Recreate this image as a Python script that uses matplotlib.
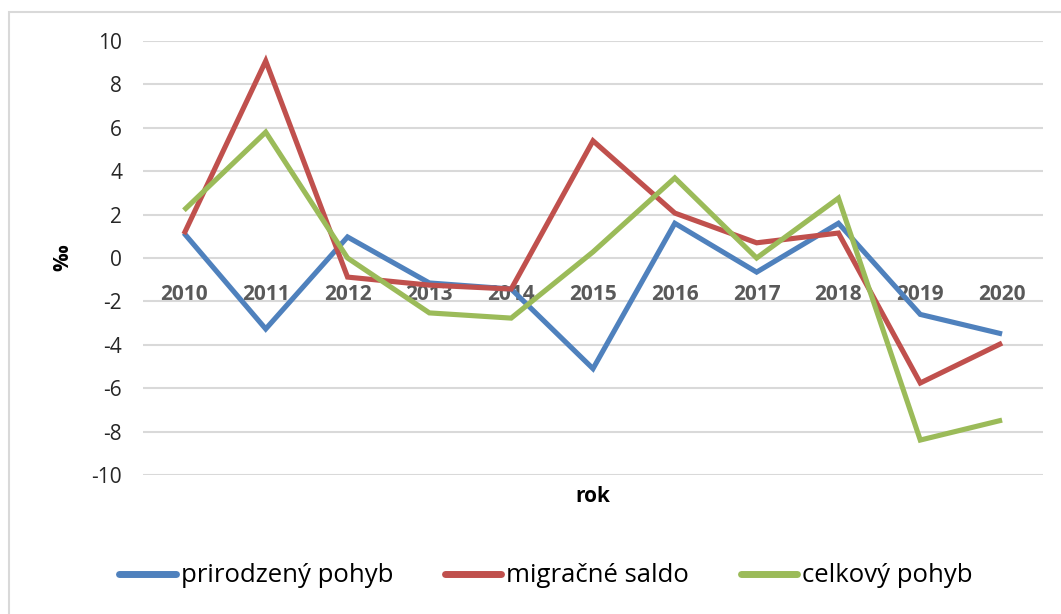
import matplotlib
matplotlib.use("Agg")
import matplotlib.pyplot as plt
from matplotlib.patches import Rectangle

years = ["2010", "2011", "2012", "2013", "2014", "2015", "2016", "2017", "2018", "2019", "2020"]
prirodzeny = [1.15, -3.27, 0.97, -1.15, -1.43, -5.1, 1.6, -0.65, 1.6, -2.6, -3.5]
migracne = [1.1, 9.08, -0.88, -1.25, -1.43, 5.4, 2.07, 0.7, 1.15, -5.76, -3.92]
celkovy = [2.2, 5.8, 0.0, -2.53, -2.77, 0.28, 3.69, 0.0, 2.76, -8.39, -7.47]
series_names = ["prirodzený pohyb", "migračné saldo", "celkový pohyb"]
colors = ["#4F81BD", "#C0504D", "#9BBB59"]
yticks = list(range(-10, 11, 2))

plt.rcParams["font.family"] = ["Open Sans", "DejaVu Sans"]

W, H = 1061, 614
fig = plt.figure(figsize=(W / 100, H / 100), dpi=100)
fig.patch.set_facecolor("white")

# chart border (clipped at right/bottom)
fig.add_artist(Rectangle((9 / W, -0.1), 1.2, 1.1 - 12 / H, transform=fig.transFigure,
                         fill=False, edgecolor="#D9D9D9", linewidth=1.5))

left, right = 143 / W, 1043 / W
top, bottom = 1 - 41 / H, 1 - 475 / H
ax = fig.add_axes([left, bottom, right - left, top - bottom])

x = list(range(len(years)))
for vals, name, c in zip([prirodzeny, migracne, celkovy], series_names, colors):
    ax.plot(x, vals, color=c, linewidth=3.7, label=name, solid_joinstyle="miter",
            solid_capstyle="butt", zorder=3)

ax.set_xlim(-0.5, len(years) - 0.5)
ax.set_ylim(-10, 10)
ax.set_yticks(yticks)
ax.set_yticklabels([str(v) for v in yticks], fontsize=15, color="#262626")
ax.grid(axis="y", color="#D9D9D9", linewidth=1.5, zorder=0)
ax.set_axisbelow(True)
for s in ax.spines.values():
    s.set_visible(False)
ax.tick_params(axis="y", length=0, pad=15)

ax.spines["bottom"].set_position(("data", 0))
ax.set_xticks(x)
ax.set_xticklabels(years, fontsize=15, fontweight="bold", color="#595959")
ax.tick_params(axis="x", length=0, pad=19)

fig.text(63 / W, 1 - 258 / H, "‰", rotation=90, fontsize=15, fontweight="bold",
         ha="center", va="center", color="#000000")
fig.text(593 / W, 1 - 497 / H, "rok", fontsize=15, fontweight="bold",
         ha="center", va="center", color="#000000")

leg = fig.legend(loc="center", bbox_to_anchor=(546 / W, 1 - 576 / H), ncol=3, frameon=False,
                 fontsize=18.5, handlelength=2.2, handletextpad=0.2, columnspacing=2.0)
for line in leg.get_lines():
    line.set_linewidth(5)
    line.set_solid_capstyle("round")

fig.savefig("out.png", dpi=100)
